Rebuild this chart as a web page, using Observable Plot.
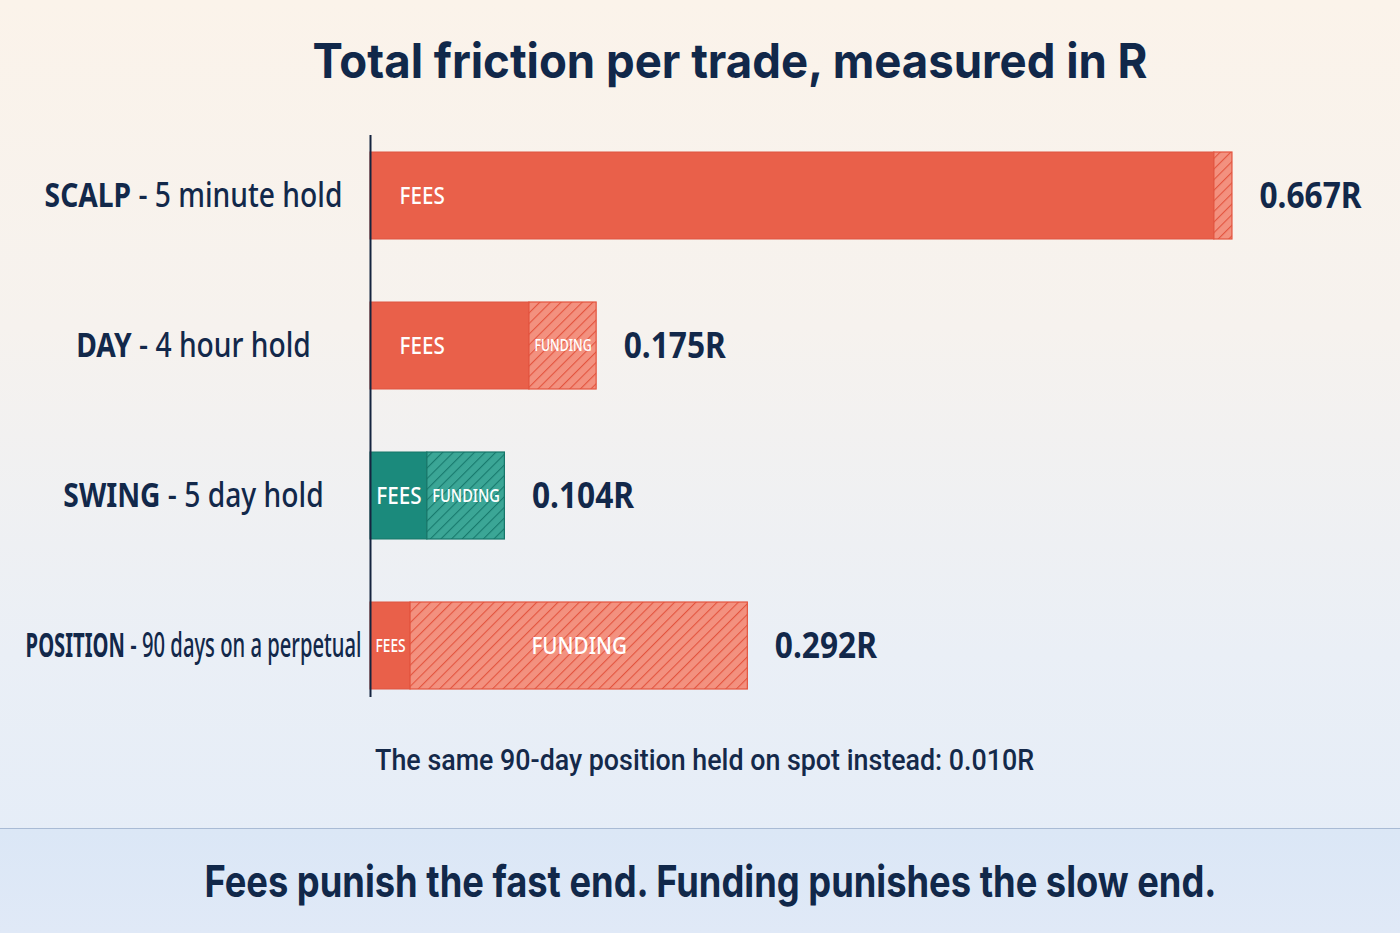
<!DOCTYPE html>
<html>
<head>
<meta charset="utf-8">
<script src="https://cdn.jsdelivr.net/npm/d3@7"></script>
<script src="https://cdn.jsdelivr.net/npm/@observablehq/plot@0.6"></script>
<style>
  html, body { margin: 0; padding: 0; }
  body {
    width: 1400px; height: 933px; overflow: hidden;
    background: linear-gradient(180deg, #fbf3ea 0%, #f6f2ee 35%, #eaeff6 70%, #e3ecf8 100%);
    font-family: Roboto, "Noto Sans", sans-serif; color: #12284a;
  }
  #title { height: 120px; display: flex; align-items: center; justify-content: center; padding-left: 60px; box-sizing: border-box; }
  #title span { font-family: Inter, Roboto, sans-serif; font-weight: 700; font-size: 48px; display: inline-block; white-space: nowrap; color: #11284a; }
  #chart { height: 600px; }
  #chart svg { display: block; overflow: visible; }
  #note { height: 108px; line-height: 80px; text-align: center; padding-left: 9px; box-sizing: border-box; }
  #note span { font-size: 30px; font-weight: 500; display: inline-block; white-space: nowrap; color: #14294a; }
  #band { height: 105px; box-sizing: border-box; border-top: 1.5px solid #a9bbd5; background: linear-gradient(180deg, #dbe7f6, #e0e9f7);
          display: flex; align-items: center; justify-content: center; padding-left: 20px; }
  #band span { font-family: Inter, Roboto, sans-serif; font-size: 44px; font-weight: 700; display: inline-block; white-space: nowrap; color: #11284a; }
</style>
</head>
<body>
<div id="title"><span>Total friction per trade, measured in R</span></div>
<div id="chart"></div>
<div id="note"><span>The same 90-day position held on spot instead: 0.010R</span></div>
<div id="band"><span>Fees punish the fast end. Funding punishes the slow end.</span></div>
<script>
// ---- data ----
const categories = ["SCALP - 5 minute hold", "DAY - 4 hour hold", "SWING - 5 day hold", "POSITION - 90 days on a perpetual"];
const fees     = [0.653, 0.123, 0.044, 0.031];
const funding  = [0.014, 0.052, 0.060, 0.261];
const totals   = [0.667, 0.175, 0.104, 0.292];
const highlightCategory = "SWING - 5 day hold";

// ---- styles ----
const NAVY = "#12284a";
const SEG_FONT = 24;
const PALETTE = {
  coral: {solid: "#e9604a", edge: "#de5440", hatchBg: "#f3917f", hatchLine: "#e3543e"},
  teal:  {solid: "#1b8a7c", edge: "#167669", hatchBg: "#3ba696", hatchLine: "#187a6d"}
};

const rows = categories.map((c, i) => ({category: c, fees: fees[i], funding: funding[i], total: totals[i]}));
const segments = rows.flatMap(r => [
  {category: r.category, part: "FEES", x1: 0, x2: r.fees},
  {category: r.category, part: "FUNDING", x1: r.fees, x2: r.fees + r.funding}
]);
const isHi = d => d.category === highlightCategory;
const width = d => d.x2 - d.x1;
const leftLabels = segments.filter(d => d.part === "FEES" && width(d) >= 0.09);
const centerLabels = segments.filter(d => !(d.part === "FEES" && width(d) >= 0.09) && width(d) >= 0.02);
const fmt = d3.format(".3f");

const plot = Plot.plot({
  width: 1400, height: 600,
  marginLeft: 370, marginRight: 22, marginTop: 15, marginBottom: 23,
  x: {domain: [0, 0.78], axis: null},
  y: {domain: categories, axis: null, paddingInner: 0.422, paddingOuter: 0.078, align: 0.66},
  style: {background: "transparent", overflow: "visible"},
  marks: [
    Plot.barX(segments, {filter: d => d.part === "FEES" && !isHi(d), y: "category", x1: "x1", x2: "x2",
      fill: PALETTE.coral.solid, stroke: PALETTE.coral.edge, strokeWidth: 1}),
    Plot.barX(segments, {filter: d => d.part === "FEES" && isHi(d), y: "category", x1: "x1", x2: "x2",
      fill: PALETTE.teal.solid, stroke: PALETTE.teal.edge, strokeWidth: 1}),
    Plot.barX(segments, {filter: d => d.part === "FUNDING" && !isHi(d), y: "category", x1: "x1", x2: "x2",
      fill: "url(#hatch-coral)", stroke: PALETTE.coral.hatchLine, strokeWidth: 1.2}),
    Plot.barX(segments, {filter: d => d.part === "FUNDING" && isHi(d), y: "category", x1: "x1", x2: "x2",
      fill: "url(#hatch-teal)", stroke: PALETTE.teal.edge, strokeWidth: 1.2}),
    Plot.text(leftLabels, {y: "category", x: "x1", text: "part", dx: 29, textAnchor: "start",
      fill: "white", fontSize: SEG_FONT, fontWeight: 500, ariaDescription: "seg-left"}),
    Plot.text(centerLabels, {y: "category", x: d => (d.x1 + d.x2) / 2, text: "part", textAnchor: "middle",
      fill: "white", fontSize: SEG_FONT, fontWeight: 500, ariaDescription: "seg-center"}),
    Plot.text(rows, {y: "category", frameAnchor: "left", dx: -177, text: "category", textAnchor: "middle",
      fill: NAVY, fontSize: 34, fontWeight: 500, ariaDescription: "category-label"}),
    Plot.text(rows, {y: "category", x: "total", text: d => fmt(d.total) + "R", dx: 27, textAnchor: "start",
      fill: NAVY, fontSize: 36, fontWeight: 700, ariaDescription: "total-label"}),
    Plot.ruleX([0], {stroke: "#15243f", strokeWidth: 2})
  ]
});
document.getElementById("chart").append(plot);

// hatch patterns
const svg = d3.select(plot);
const defs = svg.insert("defs", ":first-child");
for (const [name, p] of Object.entries(PALETTE)) {
  const pat = defs.append("pattern").attr("id", "hatch-" + name).attr("patternUnits", "userSpaceOnUse")
    .attr("width", 7.5).attr("height", 7.5).attr("patternTransform", "rotate(45)");
  pat.append("rect").attr("width", 7.5).attr("height", 7.5).attr("fill", p.hatchBg);
  pat.append("line").attr("x1", 0).attr("y1", 0).attr("x2", 0).attr("y2", 7.5)
    .attr("stroke", p.hatchLine).attr("stroke-width", 2.2);
}

function squeeze(el, s) {
  const t = el.getAttribute("transform") || "";
  el.setAttribute("transform", t + ` scale(${s},1)`);
}
const group = name => svg.selectAll(`g[aria-description="${name}"] text`);

// category labels: bold prefix, condensed
group("category-label").each(function() {
  const el = this;
  const full = el.textContent;
  const firstTspan = el.querySelector("tspan");
  const dy = firstTspan ? firstTspan.getAttribute("dy") : null;
  const cut = full.indexOf(" - ");
  while (el.firstChild) el.removeChild(el.firstChild);
  const a = d3.select(el).append("tspan").attr("font-weight", 700).text(full.slice(0, cut));
  if (dy) a.attr("dy", dy);
  d3.select(el).append("tspan").attr("font-weight", 500).text(full.slice(cut));
  const w = el.getComputedTextLength();
  const target = Math.min(w * 0.83, 336);
  squeeze(el, target / w);
});

// totals slightly condensed
group("total-label").each(function() { squeeze(this, 0.88); });

// fit segment labels into their segments
const xs = plot.scale("x");
group("seg-left").each(function() { squeeze(this, 0.86); });
group("seg-center").each(function(_, i) {
  const d = centerLabels[i];
  const segW = xs.apply(d.x2) - xs.apply(d.x1) - 10;
  const w = this.getComputedTextLength();
  let s = 0.86;
  if (w * s > segW) {
    s = Math.max(segW / w, 0.78);
    if (w * s > segW) this.setAttribute("font-size", SEG_FONT * segW / (w * s));
  }
  squeeze(this, s);
});

// fit html text widths
function fit(sel, target) {
  const el = document.querySelector(sel);
  const w = el.getBoundingClientRect().width;
  el.style.transform = `scaleX(${target / w})`;
}
fit("#title span", 835);
fit("#note span", 659);
fit("#band span", 1012);
</script>
</body>
</html>
